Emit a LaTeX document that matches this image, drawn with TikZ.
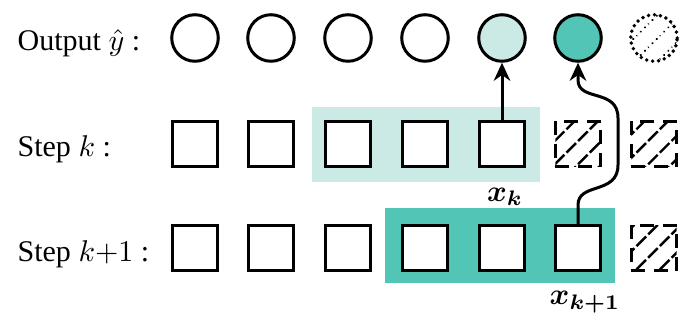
\documentclass[tikz,border=0pt]{standalone}
\usepackage{amsmath,amssymb,bm}
\usepackage{fontspec}
\setmainfont{Liberation Serif}
\usetikzlibrary{patterns,patterns.meta}
\usetikzlibrary{arrows.meta}

\definecolor{lightteal}{RGB}{204,234,229}
\definecolor{darkteal}{RGB}{82,197,183}

\tikzset{
  ycirc/.style={draw,circle,line width=1pt,minimum size=15.5pt,inner sep=0pt},
  xbox/.style={draw,rectangle,line width=1pt,minimum size=15pt,inner sep=0pt},
  hatch/.style={pattern={Lines[angle=45,distance=5.5pt,line width=0.8pt]}},
  padbox/.style={xbox,hatch,dash pattern=on 4.5pt off 3pt},
  padcirc/.style={ycirc,hatch,line width=1.3pt,dash pattern=on 0pt off 2pt,line cap=round},
  arr/.style={line width=1pt,-{Stealth[length=6pt,width=5.5pt]}}
}

\begin{document}
\begin{tikzpicture}[x=0.333pt,y=-0.333pt]
\useasboundingbox (0,0) rectangle (680,322);
% windows
\fill[lightteal] (312,107) rectangle (540,182);
\fill[darkteal] (385,208) rectangle (615,283);
% row labels
\node[anchor=base west] (lout) at (7,51) {Output $\hat{y}$ :};
\node[anchor=base west] (lk) at (7,157) {Step $k$ :};
\node[anchor=base west] (lk1) at (7,262) {Step $k{+}1$ :};
% outputs
\node[ycirc] (o1) at (195,38) {};
\node[ycirc] (o2) at (271,38) {};
\node[ycirc] (o3) at (348,38) {};
\node[ycirc] (o4) at (425,38) {};
\node[ycirc,fill=lightteal] (o5) at (502,38) {};
\node[ycirc,fill=darkteal] (o6) at (578,38) {};
\node[padcirc] (o7) at (654,38) {};
% step k
\node[xbox] (k1) at (195,144) {};
\node[xbox] (k2) at (271,144) {};
\node[xbox,fill=white] (k3) at (348,144) {};
\node[xbox,fill=white] (k4) at (425,144) {};
\node[xbox,fill=white] (k5) at (502,144) {};
\node[padbox] (k6) at (578,144) {};
\node[padbox] (k7) at (654,144) {};
% step k+1
\node[xbox] (n1) at (195,248) {};
\node[xbox] (n2) at (271,248) {};
\node[xbox] (n3) at (348,248) {};
\node[xbox,fill=white] (n4) at (425,248) {};
\node[xbox,fill=white] (n5) at (502,248) {};
\node[xbox,fill=white] (n6) at (578,248) {};
\node[padbox] (n7) at (654,248) {};
% inputs
\node (xk) at (505,197) {$\bm{x_k}$};
\node (xk1) at (585,302) {$\bm{x_{k+1}}$};
% arrows
\draw[arr] (k5.north) -- (o5.south);
\draw[arr] (n6.north) -- (578,205) .. controls (578,182) and (618,195) .. (618,165) -- (618,118) .. controls (618,88) and (578,102) .. (578,80) -- (o6.south);
\end{tikzpicture}
\end{document}
